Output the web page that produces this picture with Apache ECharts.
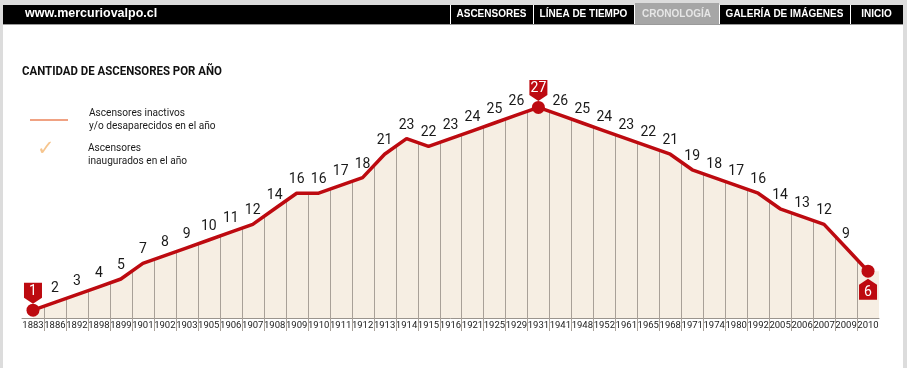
<!DOCTYPE html>
<html>
<head>
<meta charset="utf-8">
<script src="https://cdn.jsdelivr.net/npm/echarts@6/dist/echarts.min.js"></script>
<style>
html,body{margin:0;padding:0;background:#dcdcdc;}
#c{width:907px;height:368px;}
</style>
</head>
<body>
<div id="c"></div>
<script>
const years = ['1883','1886','1892','1898','1899','1901','1902','1903','1905','1906','1907','1908','1909','1910','1911','1912','1913','1914','1915','1916','1921','1925','1929','1931','1941','1948','1952','1961','1965','1968','1971','1974','1980','1992','2005','2006','2007','2009','2010'];
const counts = [1,2,3,4,5,7,8,9,10,11,12,14,16,16,17,18,21,23,22,23,24,25,26,27,26,25,24,23,22,21,19,18,17,16,14,13,12,9,6];
const tagged = ['1883','1931','2010'];
const tagsBelow = ['2010'];
const navItems = ['ASCENSORES','LÍNEA DE TIEMPO','CRONOLOGÍA','GALERÍA DE IMÁGENES','INICIO'];
const navEdges = [450,533,634,719,850,903];
const activeNav = 'CRONOLOGÍA';
const title = 'CANTIDAD DE ASCENSORES POR AÑO';
const legend1 = 'Ascensores inactivos\ny/o desaparecidos en el año';
const legend2 = 'Ascensores\ninaugurados en el año';

const RED = '#bd0a10';
const SANS = 'Roboto,"Liberation Sans",sans-serif';

const chart = echarts.init(document.getElementById('c'), null, {renderer:'canvas'});

const lineData = counts.map((v,i)=>({
  value: v,
  label: {show: tagged.indexOf(years[i]) < 0}
}));
const tagIdx = years.map((y,i)=>i).filter(i=>tagged.indexOf(years[i])>=0);

const graphics = [
  {type:'rect', shape:{x:3,y:5,width:900,height:363}, style:{fill:'#ffffff'}, z:-10},
  {type:'rect', shape:{x:3,y:5,width:900,height:19}, style:{fill:'#000000'}, z:-5},
  {type:'rect', shape:{x:3,y:24,width:900,height:1}, style:{fill:'#9a9a9a'}, z:-5},
  {type:'text', x:25, y:7, style:{text:'www.mercuriovalpo.cl', fill:'#fff', font:'bold 12.5px "Liberation Sans",Arial,sans-serif'}},
  {type:'text', x:22, y:65, scaleX:0.88, style:{text:title, fill:'#111', font:'bold 13px ' + SANS}},
  {type:'line', shape:{x1:30,y1:120,x2:68,y2:120}, style:{stroke:'#f0a283', lineWidth:2}},
  {type:'text', x:89, y:107, scaleX:0.88, style:{text:legend1, fill:'#1a1a1a', font:'11.5px ' + SANS, lineHeight:13}},
  {type:'text', x:37, y:139, style:{text:'✓', fill:'#f6c58e', font:'21px "DejaVu Sans",sans-serif'}},
  {type:'text', x:88, y:142, scaleX:0.88, style:{text:legend2, fill:'#1a1a1a', font:'11.5px ' + SANS, lineHeight:13}}
];
navItems.forEach((t,i)=>{
  const x0 = navEdges[i], x1 = navEdges[i+1];
  const active = t === activeNav;
  if (active) graphics.push({type:'rect', shape:{x:x0+1,y:3,width:x1-x0-1,height:21}, style:{fill:'#a6a6a6'}, z:-4});
  graphics.push({type:'rect', shape:{x:x0,y:5,width:1,height:19}, style:{fill:'#ffffff'}, z:-3});
  graphics.push({type:'text', x:(x0+x1)/2, y:14, style:{text:t, fill: active ? '#e6e6e6' : '#ffffff', font:'bold 10px "Liberation Sans",Arial,sans-serif', align:'center', verticalAlign:'middle'}});
});

const option = {
  animation:false,
  backgroundColor:'#dcdcdc',
  grid:{left:22, right:28, top:84, bottom:50, containLabel:false},
  xAxis:{
    type:'category', data:years, boundaryGap:true,
    axisLine:{show:true, lineStyle:{color:'#9a948e', width:1}},
    axisTick:{show:false},
    axisLabel:{interval:0, color:'#222', fontSize:9.5, fontFamily:SANS, margin:3}
  },
  yAxis:{type:'value', min:0, max:30, show:false, splitLine:{show:false}},
  graphic: graphics,
  series:[
    {
      type:'custom', z:1, silent:true,
      data:[0],
      renderItem:(params, api)=>{
        const pts = counts.map((v,i)=>api.coord([i,v]));
        const base = api.coord([0,0])[1];
        const bw = api.size([1,0])[0];
        const last = pts[pts.length-1];
        const poly = pts.slice();
        poly.push([last[0]+bw/2, last[1]]);
        poly.push([last[0]+bw/2, base]);
        poly.push([pts[0][0], base]);
        return {type:'polygon', shape:{points:poly}, style:{fill:'#f6eee3'}};
      }
    },
    {
      type:'custom', z:2, silent:true, clip:false,
      data: counts.slice(0,-1).map((v,i)=>i),
      renderItem:(params, api)=>{
        const i = api.value(0);
        const p1 = api.coord([i, counts[i]]);
        const p2 = api.coord([i+1, counts[i+1]]);
        const xm = (p1[0]+p2[0])/2, ym = (p1[1]+p2[1])/2;
        const base = api.coord([i,0])[1];
        return {type:'line', shape:{x1:Math.round(xm)+0.5,y1:base+13,x2:Math.round(xm)+0.5,y2:ym}, style:{stroke:'#a8a098', lineWidth:1}};
      }
    },
    {
      type:'line', z:5, data:lineData, symbol:'circle', symbolSize:1, showSymbol:true,
      itemStyle:{color:'rgba(0,0,0,0)'},
      lineStyle:{color:RED, width:3.5},
      label:{show:true, position:'top', distance:6, color:'#1a1a1a', fontSize:14, fontFamily:SANS}
    },
    {
      type:'scatter', z:6, symbol:'circle', symbolSize:13,
      itemStyle:{color:RED, opacity:1},
      data: tagIdx.map(i=>[i, counts[i]])
    },
    {
      type:'scatter', z:7,
      data: tagIdx.map(i=>{
        const below = tagsBelow.indexOf(years[i])>=0;
        return {
          value:[i, counts[i]],
          symbol: below ? 'path://M9,0 L18,6 L18,21 L0,21 L0,6 Z' : 'path://M0,0 L18,0 L18,15 L9,21 L0,15 Z',
          symbolSize:[18,21],
          symbolOffset:[0, below ? 18 : -17],
          label:{show:true, position:'inside', offset:[0, below ? 3 : -2], formatter: String(counts[i]), color:'#fff', fontSize:14, fontFamily:SANS}
        };
      }),
      itemStyle:{color:RED, opacity:1}
    }
  ]
};
chart.setOption(option);
</script>
</body>
</html>
